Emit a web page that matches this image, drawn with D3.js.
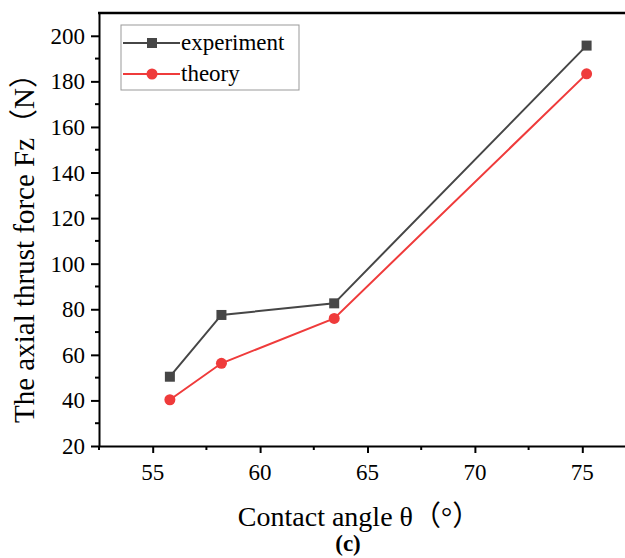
<!DOCTYPE html>
<html>
<head>
<meta charset="utf-8">
<script src="https://cdn.jsdelivr.net/npm/d3@7"></script>
<style>
  body { margin: 0; background: #fff; }
  svg { display: block; }
  text { font-family: "Liberation Serif", "Times New Roman", "Noto Sans CJK SC", serif; fill: #000; }
  text.tk { font-size: 23px; font-family: "Liberation Serif", serif; }
</style>
</head>
<body>
<div id="chart"></div>
<script>
// data
var angles = [55.8, 58.2, 63.45, 75.2];
var experiment = [50.4, 77.5, 82.6, 195.7];
var theory = [40.3, 56.3, 76.0, 183.3];
var xTicks = [55, 60, 65, 70, 75];
var yTicks = [20, 40, 60, 80, 100, 120, 140, 160, 180, 200];

var series = [
  {name: "experiment", values: experiment, color: "#464646", shape: "square"},
  {name: "theory", values: theory, color: "#ef3b3b", shape: "circle"}
];

var W = 625, H = 558;
var plotLeft = 99, plotTop = 13, plotBottom = 446, plotRight = 636; // plot runs past the image edge

var svg = d3.select("#chart").append("svg")
  .attr("width", W)
  .attr("height", H);

var x = d3.scaleLinear().domain([52.5, 77.5]).range([plotLeft, plotRight]);
var y = d3.scaleLinear().domain([20, 210]).range([plotBottom, plotTop]);

// x axis (ticks from d3, labels drawn separately)
var xAxis = svg.append("g").attr("transform", "translate(0," + plotBottom + ")");
xAxis.call(d3.axisBottom(x).tickValues(xTicks).tickSize(7).tickSizeOuter(0).tickFormat(""));
xAxis.append("g").selectAll("line")
  .data(d3.range(52.5, 77.6, 5))
  .enter().append("line")
  .attr("x1", function(d) { return x(d); })
  .attr("x2", function(d) { return x(d); })
  .attr("y1", 0).attr("y2", 4)
  .attr("stroke", "#000").attr("stroke-width", 2);
svg.append("g").selectAll("text")
  .data(xTicks).enter().append("text")
  .attr("class", "tk")
  .attr("x", function(d) { return x(d); })
  .attr("y", plotBottom + 34)
  .attr("text-anchor", "middle")
  .text(function(d) { return d; });

// y axis
var yAxis = svg.append("g").attr("transform", "translate(" + plotLeft + ",0)");
yAxis.call(d3.axisLeft(y).tickValues(yTicks).tickSize(8).tickSizeOuter(0).tickFormat(""));
yAxis.append("g").selectAll("line")
  .data(d3.range(30, 210, 20))
  .enter().append("line")
  .attr("x1", 0).attr("x2", -4)
  .attr("y1", function(d) { return y(d); })
  .attr("y2", function(d) { return y(d); })
  .attr("stroke", "#000").attr("stroke-width", 2);
svg.append("g").selectAll("text")
  .data(yTicks).enter().append("text")
  .attr("class", "tk")
  .attr("x", plotLeft - 14)
  .attr("y", function(d) { return y(d) + 8; })
  .attr("text-anchor", "end")
  .text(function(d) { return d; });

svg.selectAll(".domain").attr("stroke-width", 2).attr("stroke", "#000");
svg.selectAll(".tick line").attr("stroke-width", 2).attr("stroke", "#000");

// top border line
svg.append("line")
  .attr("x1", plotLeft - 1).attr("x2", W)
  .attr("y1", plotTop).attr("y2", plotTop)
  .attr("stroke", "#000").attr("stroke-width", 2.5);

// lines and markers
var line = d3.line()
  .x(function(d, i) { return x(angles[i]); })
  .y(function(d) { return y(d); });

series.forEach(function(s) {
  svg.append("path")
    .datum(s.values)
    .attr("d", line)
    .attr("fill", "none")
    .attr("stroke", s.color)
    .attr("stroke-width", 2);

  var g = svg.append("g");
  if (s.shape == "square") {
    g.selectAll("rect").data(s.values).enter().append("rect")
      .attr("x", function(d, i) { return x(angles[i]) - 5; })
      .attr("y", function(d) { return y(d) - 5; })
      .attr("width", 10).attr("height", 10)
      .attr("fill", s.color);
  } else {
    g.selectAll("circle").data(s.values).enter().append("circle")
      .attr("cx", function(d, i) { return x(angles[i]); })
      .attr("cy", function(d) { return y(d); })
      .attr("r", 5.5)
      .attr("fill", s.color);
  }
});

// legend
var legend = svg.append("g");
legend.append("rect")
  .attr("x", 121).attr("y", 25)
  .attr("width", 178).attr("height", 65)
  .attr("fill", "#fff").attr("stroke", "#999").attr("stroke-width", 1);

series.forEach(function(s, i) {
  var ly = 43 + i * 31;
  legend.append("line")
    .attr("x1", 123).attr("x2", 180)
    .attr("y1", ly).attr("y2", ly)
    .attr("stroke", s.color).attr("stroke-width", 2);
  if (s.shape == "square") {
    legend.append("rect")
      .attr("x", 147).attr("y", ly - 5)
      .attr("width", 10).attr("height", 10)
      .attr("fill", s.color);
  } else {
    legend.append("circle")
      .attr("cx", 152).attr("cy", ly).attr("r", 5.5)
      .attr("fill", s.color);
  }
  legend.append("text")
    .attr("x", 181).attr("y", ly + 7)
    .style("font-size", "23px")
    .text(s.name);
});

// axis titles
svg.append("text")
  .attr("x", 359).attr("y", 526)
  .attr("text-anchor", "middle")
  .style("font-size", "28px")
  .text("Contact angle θ（°）");

svg.append("text")
  .attr("transform", "translate(34,241) rotate(-90)")
  .attr("text-anchor", "middle")
  .style("font-size", "29px")
  .text("The axial thrust force Fz（N）");

svg.append("text")
  .attr("x", 348).attr("y", 551)
  .attr("text-anchor", "middle")
  .style("font-size", "23px")
  .style("font-weight", "bold")
  .text("(c)");
</script>
</body>
</html>
